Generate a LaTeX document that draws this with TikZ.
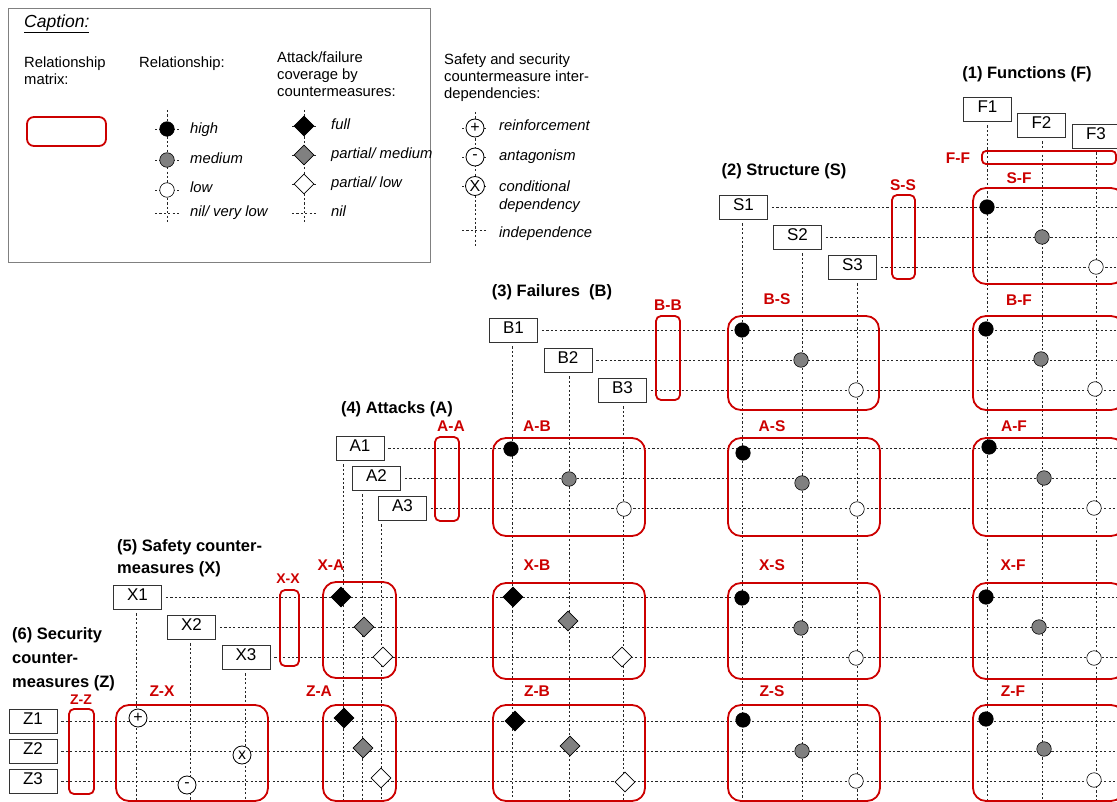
\documentclass[tikz,border=0pt]{standalone}
\usepackage{fontspec}
\setmainfont{Liberation Sans}
\usetikzlibrary{shapes.geometric}
\definecolor{matred}{HTML}{CC0000}
\begin{document}
\begin{tikzpicture}[x=1pt,y=-1pt,
  grid/.style={draw=black!85, line width=0.8pt, dash pattern=on 2.2pt off 2.2pt},
  elem/.style={draw=black!80, line width=0.8pt, fill=white, minimum width=48pt, minimum height=24pt, inner sep=0pt, text height=0.72em, text depth=0pt, font=\fontsize{17}{18}\selectfont},
  mat/.style={draw=matred, line width=1.8pt, rounded corners=13pt},
  matn/.style={draw=matred, line width=1.8pt, rounded corners=5pt},
  mlabel/.style={text=matred, font=\bfseries\fontsize{15.5}{18}\selectfont, inner sep=0pt, text height=0.72em, text depth=0pt},
  title/.style={font=\bfseries\fontsize{16.5}{20}\selectfont, inner sep=0pt, text height=0.72em, text depth=0pt},
  ctxt/.style={font=\fontsize{14.8}{17}\selectfont, inner sep=0pt, text height=0.72em, text depth=0pt, anchor=west},
  itxt/.style={ctxt, font=\itshape\fontsize{14.8}{17}\selectfont},
  hi/.style={circle, draw=black, fill=black, minimum size=14.5pt, inner sep=0pt, line width=0.6pt},
  med/.style={hi, fill=black!50},
  lo/.style={hi, fill=white},
  dfull/.style={diamond, draw=black, fill=black, minimum width=20pt, minimum height=20pt, inner sep=0pt, line width=0.6pt},
  dmed/.style={dfull, fill=black!50},
  dlo/.style={dfull, fill=white},
  dep/.style={circle, draw=black, fill=white, minimum size=18pt, inner sep=0pt, line width=0.8pt, font=\fontsize{16}{16}\selectfont}
]
\useasboundingbox (0,0) rectangle (1117,802);
\clip (0,0) rectangle (1117,802);
\coordinate (rend) at (1117,0);

% ---------------- caption ----------------
\draw[draw=black!50, line width=0.8pt] (8,8) rectangle (430,262);
\node[ctxt, font=\itshape\fontsize{17.5}{20}\selectfont] (cap) at (24,24) {\underline{Caption:}};
\node[ctxt] (rm1) at (24,64) {Relationship};
\node[ctxt] (rm2) at (24,81) {matrix:};
\draw[draw=matred, line width=1.8pt, rounded corners=7pt] (27,117) rectangle (106,146);
\node[ctxt] (rel) at (139,64) {Relationship:};
\node[ctxt] (af1) at (277,59) {Attack/failure};
\node[ctxt] (af2) at (277,76) {coverage by};
\node[ctxt] (af3) at (277,93) {countermeasures:};
\node[ctxt] (ss1) at (444,61) {Safety and security};
\node[ctxt] (ss2) at (444,78) {countermeasure inter-};
\node[ctxt] (ss3) at (444,95) {dependencies:};

\draw[grid] (167,110) -- (167,222);
\foreach \y in {129,160,190,213} \draw[grid] (155,\y) -- (180,\y);
\node[hi] (lhi) at (167,129) {};
\node[med] (lmed) at (167,160) {};
\node[lo] (llo) at (167,190) {};
\node[itxt] (thi) at (190,130) {high};
\node[itxt] (tmed) at (190,160) {medium};
\node[itxt] (tlo) at (190,189) {low};
\node[itxt] (tnil) at (190,213) {nil/ very low};

\draw[grid] (304,110) -- (304,222);
\foreach \y in {126,155,184,213} \draw[grid] (292,\y) -- (316,\y);
\node[dfull] (ldf) at (304,126) {};
\node[dmed] (ldm) at (304,155) {};
\node[dlo] (ldl) at (304,184) {};
\node[itxt] (tfull) at (331,126) {full};
\node[itxt] (tpm) at (331,155) {partial/ medium};
\node[itxt] (tpl) at (331,184) {partial/ low};
\node[itxt] (tn) at (331,213) {nil};

\draw[grid] (475,112) -- (475,248);
\foreach \y in {128,157,186,230} \draw[grid] (462,\y) -- (488,\y);
\node[dep] (lp) at (475,128) {+};
\node[dep] (lm) at (475,157) {-};
\node[dep, minimum size=19pt] (lx) at (475,186) {X};
\node[itxt] (tre) at (499,127) {reinforcement};
\node[itxt] (tan) at (499,157) {antagonism};
\node[itxt] (tc1) at (499,188) {conditional};
\node[itxt] (tc2) at (499,206) {dependency};
\node[itxt] (tin) at (499,234) {independence};

% ---------------- element boxes ----------------
\node[elem] (F1) at (987.5,109) {F1};
\node[elem] (F2) at (1041.5,125) {F2};
\node[elem] (F3) at (1096,136) {F3};
\node[elem] (S1) at (743.5,207) {S1};
\node[elem] (S2) at (797.5,237) {S2};
\node[elem] (S3) at (852.5,267) {S3};
\node[elem] (B1) at (513.5,330) {B1};
\node[elem] (B2) at (568,360) {B2};
\node[elem] (B3) at (622.5,390) {B3};
\node[elem] (A1) at (360,448) {A1};
\node[elem] (A2) at (376.5,478) {A2};
\node[elem] (A3) at (402.5,508) {A3};
\node[elem] (X1) at (137.5,597) {X1};
\node[elem] (X2) at (191.5,627) {X2};
\node[elem] (X3) at (246,657) {X3};
\node[elem] (Z1) at (33,721) {Z1};
\node[elem] (Z2) at (33,751) {Z2};
\node[elem] (Z3) at (33,781) {Z3};

% ---------------- grid lines ----------------
\foreach \n/\x in {F1/987,F2/1042,F3/1096,S1/742,S2/802,S3/857,B1/512,B2/569,B3/623,A1/343,A2/362,A3/381,X1/136,X2/190,X3/245}{
  \coordinate (c\n) at (\x,802);
  \draw[grid] (\n.south -| c\n) ++(0,4) -- (c\n);
}
\foreach \n in {S1,S2,S3,B1,B2,B3,A1,A2,A3,X1,X2,X3,Z1,Z2,Z3}{
  \draw[grid] (\n.east) ++(4,0) -- (\n.east -| rend);
}

% ---------------- titles ----------------
\node[title] (tF) at (1027,75) {(1) Functions (F)};
\node[title] (tS) at (784,172) {(2) Structure (S)};
\node[title] (tB) at (552,293) {(3) Failures\ \ (B)};
\node[title] (tA) at (397,410) {(4) Attacks (A)};
\node[title, anchor=west] (tX1) at (117,548) {(5) Safety counter-};
\node[title, anchor=west] (tX2) at (117,570) {measures (X)};
\node[title, anchor=west] (tZ1) at (12,636) {(6) Security};
\node[title, anchor=west] (tZ2) at (12,660) {counter-};
\node[title, anchor=west] (tZ3) at (12,684) {measures (Z)};

% ---------------- relationship matrices ----------------
\draw[draw=matred, line width=1.8pt, rounded corners=4pt] (982,151) rectangle (1116,164);
\draw[matn] (892,195) rectangle (915,279);
\draw[mat] (973,188) rectangle (1124,284);
\draw[matn] (656,316) rectangle (680,400);
\draw[mat] (728,316) rectangle (879,410);
\draw[mat] (973,316) rectangle (1124,410);
\draw[matn] (435,437) rectangle (459,521);
\draw[mat] (493,438) rectangle (645,536);
\draw[mat] (728,438) rectangle (880,536);
\draw[mat] (973,438) rectangle (1124,536);
\draw[matn] (280,590) rectangle (299,666);
\draw[mat] (323,582) rectangle (396,678);
\draw[mat] (493,583) rectangle (645,679);
\draw[mat] (728,583) rectangle (880,679);
\draw[mat] (973,583) rectangle (1124,679);
\draw[matn] (69,709) rectangle (94,794);
\draw[mat] (116,705) rectangle (268,801);
\draw[mat] (323,705) rectangle (396,801);
\draw[mat] (493,705) rectangle (645,801);
\draw[mat] (728,705) rectangle (880,801);
\draw[mat] (973,705) rectangle (1124,801);

\node[mlabel] (lFF) at (958,160) {F-F};
\node[mlabel] (lSS) at (903,187) {S-S};
\node[mlabel] (lSF) at (1019,180) {S-F};
\node[mlabel] (lBB) at (668,307) {B-B};
\node[mlabel] (lBS) at (777,301) {B-S};
\node[mlabel] (lBF) at (1019,302) {B-F};
\node[mlabel] (lAA) at (451,428) {A-A};
\node[mlabel] (lAB) at (537,428) {A-B};
\node[mlabel] (lAS) at (772,428) {A-S};
\node[mlabel] (lAF) at (1014,428) {A-F};
\node[mlabel, font=\bfseries\fontsize{14}{16}\selectfont] (lXX) at (288,580) {X-X};
\node[mlabel] (lXA) at (331,567) {X-A};
\node[mlabel] (lXB) at (537,567) {X-B};
\node[mlabel] (lXS) at (772,567) {X-S};
\node[mlabel] (lXF) at (1013,567) {X-F};
\node[mlabel, font=\bfseries\fontsize{14}{16}\selectfont] (lZZ) at (81,701) {Z-Z};
\node[mlabel] (lZX) at (162,693) {Z-X};
\node[mlabel] (lZA) at (319,693) {Z-A};
\node[mlabel] (lZB) at (537,693) {Z-B};
\node[mlabel] (lZS) at (772,693) {Z-S};
\node[mlabel] (lZF) at (1013,693) {Z-F};

% ---------------- markers ----------------
\node[hi] (SF1) at (987,207) {};
\node[med] (SF2) at (1042,237) {};
\node[lo] (SF3) at (1096,267) {};
\node[hi] (BS1) at (742,330) {};
\node[med] (BS2) at (801,360) {};
\node[lo] (BS3) at (856,390) {};
\node[hi] (BF1) at (986,329) {};
\node[med] (BF2) at (1041,359) {};
\node[lo] (BF3) at (1095,389) {};
\node[hi] (AB1) at (511,449) {};
\node[med] (AB2) at (569,479) {};
\node[lo] (AB3) at (624,509) {};
\node[hi] (AS1) at (743,453) {};
\node[med] (AS2) at (802,483) {};
\node[lo] (AS3) at (857,509) {};
\node[hi] (AF1) at (989,447) {};
\node[med] (AF2) at (1044,478) {};
\node[lo] (AF3) at (1094,508) {};
\node[dfull] (XA1) at (341,597) {};
\node[dmed] (XA2) at (364,627) {};
\node[dlo] (XA3) at (383,657) {};
\node[dfull] (XB1) at (513,597) {};
\node[dmed] (XB2) at (568,621) {};
\node[dlo] (XB3) at (622,657) {};
\node[hi] (XS1) at (742,598) {};
\node[med] (XS2) at (801,628) {};
\node[lo] (XS3) at (856,658) {};
\node[hi] (XF1) at (986,597) {};
\node[med] (XF2) at (1039,627) {};
\node[lo] (XF3) at (1094,658) {};
\node[dep] (ZX1) at (138,718) {+};
\node[dep] (ZX2) at (242,755) {x};
\node[dep] (ZX3) at (187,785) {-};
\node[dfull] (ZA1) at (344,718) {};
\node[dmed] (ZA2) at (363,748) {};
\node[dlo] (ZA3) at (381,778) {};
\node[dfull] (ZB1) at (515,721) {};
\node[dmed] (ZB2) at (570,746) {};
\node[dlo] (ZB3) at (625,782) {};
\node[hi] (ZS1) at (743,720) {};
\node[med] (ZS2) at (802,751) {};
\node[lo] (ZS3) at (856,781) {};
\node[hi] (ZF1) at (986,719) {};
\node[med] (ZF2) at (1044,749) {};
\node[lo] (ZF3) at (1094,780) {};
\end{tikzpicture}
\end{document}
